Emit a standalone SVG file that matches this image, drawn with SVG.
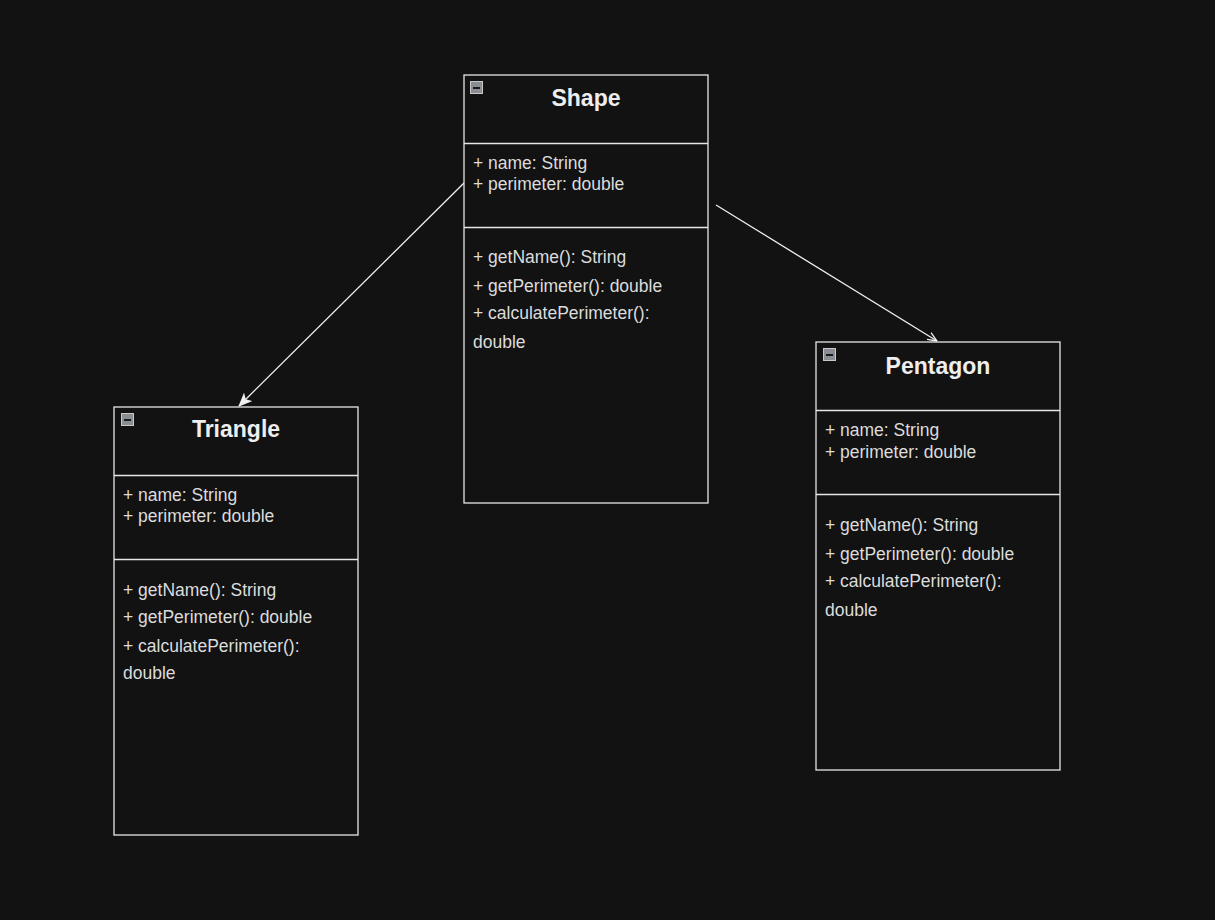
<svg xmlns="http://www.w3.org/2000/svg" width="1215" height="920" viewBox="0 0 1215 920">
  <defs>
    <style>
      .box { fill: #121212; stroke: #e6e6e6; stroke-width: 1.3; }
      .div { stroke: #e6e6e6; stroke-width: 1.3; }
      .title { font-family: "Liberation Sans", Arial, sans-serif; font-size: 23px; font-weight: bold; fill: #eeeeee; text-anchor: middle; }
      .txt { font-family: "Liberation Sans", Arial, sans-serif; font-size: 17.5px; fill: #dcdcdc; }
      .icon { fill: #8a8d94; stroke: #c8c8c8; stroke-width: 1; }
      .iconbar { stroke: #1a1a1a; stroke-width: 2; }
      .edge { stroke: #f0f0f0; stroke-width: 1.3; fill: none; }
    </style>
    <marker id="block" viewBox="0 0 14 12" refX="13" refY="6" markerWidth="14" markerHeight="12" markerUnits="userSpaceOnUse" orient="auto">
      <path d="M0,0 L14,6 L0,12 L3.5,6 Z" fill="#f0f0f0"/>
    </marker>
    <marker id="open" viewBox="0 0 10 10" refX="9.5" refY="5" markerWidth="10" markerHeight="10" markerUnits="userSpaceOnUse" orient="auto">
      <path d="M0,1 L9.5,5 L0,9" fill="none" stroke="#f0f0f0" stroke-width="1.3"/>
    </marker>
  </defs>

  <rect x="0" y="0" width="1215" height="920" fill="#121212"/>

  <!-- Connectors -->
  <g id="connectors">
    <line class="edge" x1="464" y1="183" x2="239" y2="406" marker-end="url(#block)"/>
    <line class="edge" x1="716" y1="205" x2="937" y2="341" marker-end="url(#open)"/>
  </g>

  <!-- Shape -->
  <g id="shape">
    <rect class="box" x="464" y="75" width="244" height="428"/>
    <line class="div" x1="464" y1="143.5" x2="708" y2="143.5"/>
    <line class="div" x1="464" y1="227.5" x2="708" y2="227.5"/>
    <rect class="icon" x="470.5" y="81.5" width="12" height="12"/>
    <line class="iconbar" x1="473" y1="88" x2="480" y2="88"/>
    <text class="title" x="586" y="106">Shape</text>
    <text class="txt" x="473" y="169">+ name: String</text>
    <text class="txt" x="473" y="190">+ perimeter: double</text>
    <text class="txt" x="473" y="263">+ getName(): String</text>
    <text class="txt" x="473" y="292">+ getPerimeter(): double</text>
    <text class="txt" x="473" y="319">+ calculatePerimeter():</text>
    <text class="txt" x="473" y="348">double</text>
  </g>

  <!-- Triangle -->
  <g id="triangle">
    <rect class="box" x="114" y="407" width="244" height="428"/>
    <line class="div" x1="114" y1="475.5" x2="358" y2="475.5"/>
    <line class="div" x1="114" y1="559.5" x2="358" y2="559.5"/>
    <rect class="icon" x="121.5" y="413.5" width="12" height="12"/>
    <line class="iconbar" x1="124" y1="420" x2="131" y2="420"/>
    <text class="title" x="236" y="437">Triangle</text>
    <text class="txt" x="123" y="501">+ name: String</text>
    <text class="txt" x="123" y="522">+ perimeter: double</text>
    <text class="txt" x="123" y="596">+ getName(): String</text>
    <text class="txt" x="123" y="623">+ getPerimeter(): double</text>
    <text class="txt" x="123" y="652">+ calculatePerimeter():</text>
    <text class="txt" x="123" y="679">double</text>
  </g>

  <!-- Pentagon -->
  <g id="pentagon">
    <rect class="box" x="816" y="342" width="244" height="428"/>
    <line class="div" x1="816" y1="410.5" x2="1060" y2="410.5"/>
    <line class="div" x1="816" y1="494.5" x2="1060" y2="494.5"/>
    <rect class="icon" x="823.5" y="348.5" width="12" height="12"/>
    <line class="iconbar" x1="826" y1="355" x2="833" y2="355"/>
    <text class="title" x="938" y="374">Pentagon</text>
    <text class="txt" x="825" y="436">+ name: String</text>
    <text class="txt" x="825" y="458">+ perimeter: double</text>
    <text class="txt" x="825" y="531">+ getName(): String</text>
    <text class="txt" x="825" y="560">+ getPerimeter(): double</text>
    <text class="txt" x="825" y="587">+ calculatePerimeter():</text>
    <text class="txt" x="825" y="616">double</text>
  </g>
</svg>
